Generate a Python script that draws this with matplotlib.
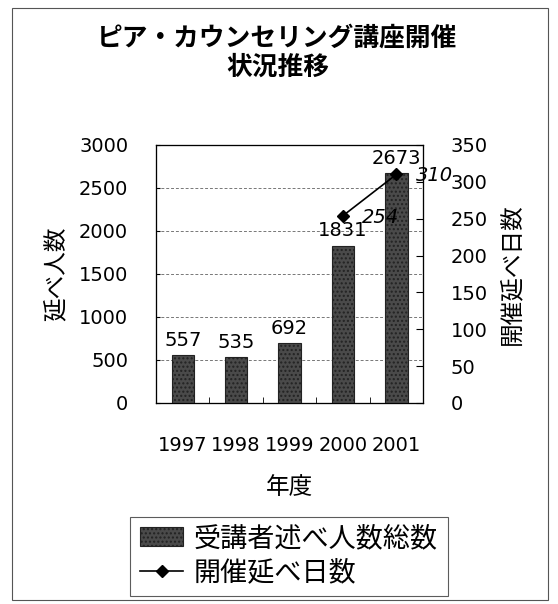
import numpy as np
import matplotlib
matplotlib.use("Agg")
import matplotlib.pyplot as plt
from matplotlib.patches import Rectangle

plt.rcParams['font.family'] = ['DejaVu Sans', 'Noto Sans CJK JP']
plt.rcParams['hatch.color'] = '#9a9a9a'

years = ["1997", "1998", "1999", "2000", "2001"]
attendees = [557, 535, 692, 1831, 2673]       # 受講者述べ人数総数
days = [np.nan, np.nan, np.nan, 254, 310]     # 開催延べ日数

title = "ピア・カウンセリング講座開催\n状況推移"
bar_label = "受講者述べ人数総数"
line_label = "開催延べ日数"

fig = plt.figure(figsize=(5.58, 6.04), dpi=100)
ax = fig.add_axes([0.2796, 0.3328, 0.4785, 0.4272])
ax2 = ax.twinx()

x = np.arange(len(years))
bars = ax.bar(x, attendees, width=0.42, color="#4a4a4a", edgecolor="#222222",
              hatch="....", linewidth=0.8, zorder=3, label=bar_label)

for xi, v in zip(x, attendees):
    ax.text(xi, v + 60, str(v), ha="center", va="bottom", fontsize=14)

ax.set_ylim(0, 3000)
ax.set_xlim(-0.5, len(years) - 0.5)
ax.set_yticks(range(0, 3001, 500))
ax.set_xticks(x)
ax.set_xticklabels(years, fontsize=14)
ax.tick_params(axis="x", length=0, pad=24)
ax.set_xticks(np.arange(-0.5, len(years), 1), minor=True)
ax.tick_params(axis="x", which="minor", direction="in", length=4)
ax.tick_params(axis="y", labelsize=14, direction="in", length=3, pad=20)
ax.yaxis.grid(True, linestyle=(0, (3, 2)), color="#777777", linewidth=0.7, zorder=0)
ax.set_axisbelow(True)
ax.set_xlabel("年度", fontsize=17, labelpad=14)
ax.set_ylabel("延べ人数", fontsize=17, labelpad=8)
for s in ax.spines.values():
    s.set_color("#333333")
    s.set_linewidth(0.9)

ln, = ax2.plot(x, days, color="black", marker="D", markersize=6, linewidth=1.2,
               zorder=4, label=line_label)
for xi, v in zip(x, days):
    if not np.isnan(v):
        ax2.text(xi + 0.36, v - 2, str(int(v)), ha="left", va="center",
                 fontsize=14, style="italic")
ax2.set_ylim(0, 350)
ax2.set_yticks(range(0, 351, 50))
ax2.tick_params(axis="y", labelsize=14, direction="in", length=5, pad=20)
ax2.set_ylabel("開催延べ日数", fontsize=17, labelpad=8, rotation=90)

fig.text(0.497, 0.912, title, ha="center", va="center", fontsize=18.5,
         fontweight="bold", linespacing=1.12)

leg = fig.legend(handles=[bars, ln], labels=[bar_label, line_label],
                 loc="center", bbox_to_anchor=(0.518, 0.079), fontsize=19.5,
                 frameon=True, fancybox=False, edgecolor="#333333",
                 handlelength=1.6, handletextpad=0.4, borderpad=0.35,
                 labelspacing=0.3, borderaxespad=0)
leg.get_frame().set_linewidth(0.8)

fig.patches.append(Rectangle((0.022, 0.006), 0.96, 0.981, transform=fig.transFigure,
                             fill=False, edgecolor="#555555", linewidth=0.8))

fig.savefig("out.png", dpi=100)
